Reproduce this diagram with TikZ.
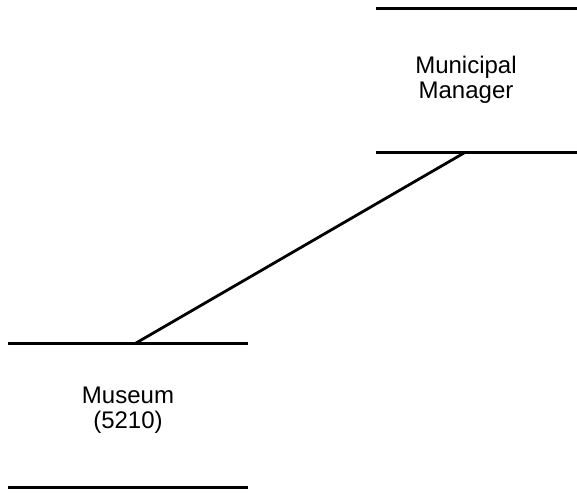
\documentclass[tikz,border=0pt]{standalone}
\usepackage{fontspec}
\setmainfont{Liberation Sans}
\usetikzlibrary{calc}
\begin{document}
\begin{tikzpicture}[x=1pt,y=-1pt,
  rule/.style={line width=2.6pt,black},
  link/.style={line width=2.8pt,black},
  area/.style={inner sep=0pt,outer sep=0pt,minimum width=#1,minimum height=144pt,anchor=north west},
  label/.style={font=\fontsize{24}{25}\selectfont,align=center,text=black}]
\useasboundingbox (0,0) rectangle (577,492);
\node[area=201pt] (mmbox) at (376,8.5) {};
\node[area=240pt] (mubox) at (8,343.5) {};
\node[label] (mm) at (466,80) {Municipal\\Manager};
\node[label] (mu) at (128,410) {Museum\\(5210)};
\draw[rule] (mmbox.north west) -- (mmbox.north east);
\draw[rule] (mmbox.south west) -- (mmbox.south east);
\draw[rule] (mubox.north west) -- (mubox.north east);
\draw[rule] (mubox.south west) -- (mubox.south east);
\draw[link] ($(mmbox.south west)!0.442!(mmbox.south east)$) -- ($(mubox.north west)!0.53!(mubox.north east)$);
\end{tikzpicture}
\end{document}
